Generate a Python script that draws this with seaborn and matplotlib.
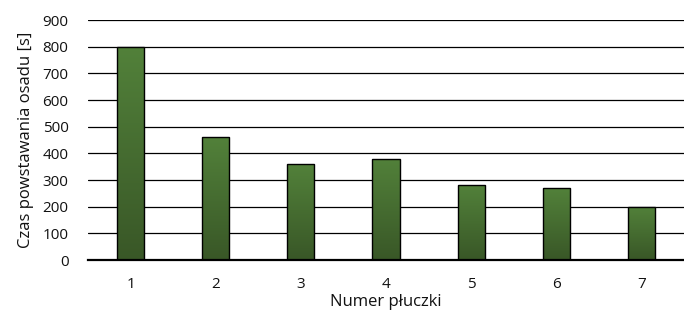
import numpy as np
import pandas as pd
import matplotlib
matplotlib.use("Agg")
import matplotlib.pyplot as plt
import seaborn as sns
from matplotlib.colors import LinearSegmentedColormap

# data
plates = ["1", "2", "3", "4", "5", "6", "7"]
times = [800, 460, 360, 380, 280, 270, 200]
y_ticks = [0, 100, 200, 300, 400, 500, 600, 700, 800, 900]

df = pd.DataFrame({"plate": plates, "time": times})

sns.set_style("white")
plt.rcParams["font.family"] = ["Open Sans", "DejaVu Sans"]

fig = plt.figure(figsize=(6.84, 3.15), dpi=100)
ax = fig.add_axes([0.1287, 0.1746, 0.8713, 0.7619])

sns.barplot(data=df, x="plate", y="time", color="#4a7434", width=0.32,
            edgecolor="black", linewidth=1.0, ax=ax, zorder=3)

# gradient fill: lighter green on top, darker at bottom
cmap = LinearSegmentedColormap.from_list("g", ["#395727", "#52813a"])
grad = np.linspace(0, 1, 256).reshape(-1, 1)
for bar in ax.patches:
    x0, y0 = bar.get_x(), bar.get_y()
    w, h = bar.get_width(), bar.get_height()
    im = ax.imshow(grad, cmap=cmap, origin="lower", aspect="auto",
                   extent=[x0, x0 + w, y0, y0 + h], zorder=3.5)
    im.set_clip_path(bar)
    bar.set_facecolor("none")
    bar.set_zorder(4)

ax.set_xlim(-0.5, 6.5)
ax.set_ylim(0, 900)
ax.set_yticks(y_ticks)
ax.yaxis.grid(True, color="black", linewidth=0.9, zorder=0)
ax.set_axisbelow(True)
for s in ["top", "right", "left"]:
    ax.spines[s].set_visible(False)
ax.spines["bottom"].set_color("black")
ax.spines["bottom"].set_linewidth(1.6)
ax.spines["bottom"].set_zorder(5)
ax.tick_params(axis="both", length=0, labelsize=11, colors="#111111")
ax.tick_params(axis="y", pad=14)
ax.tick_params(axis="x", pad=12)
ax.set_xlabel("Numer płuczki", fontsize=12, color="#111111", labelpad=2)
ax.set_ylabel("Czas powstawania osadu [s]", fontsize=12, color="#111111", labelpad=6)

fig.savefig("out.png", dpi=100)
